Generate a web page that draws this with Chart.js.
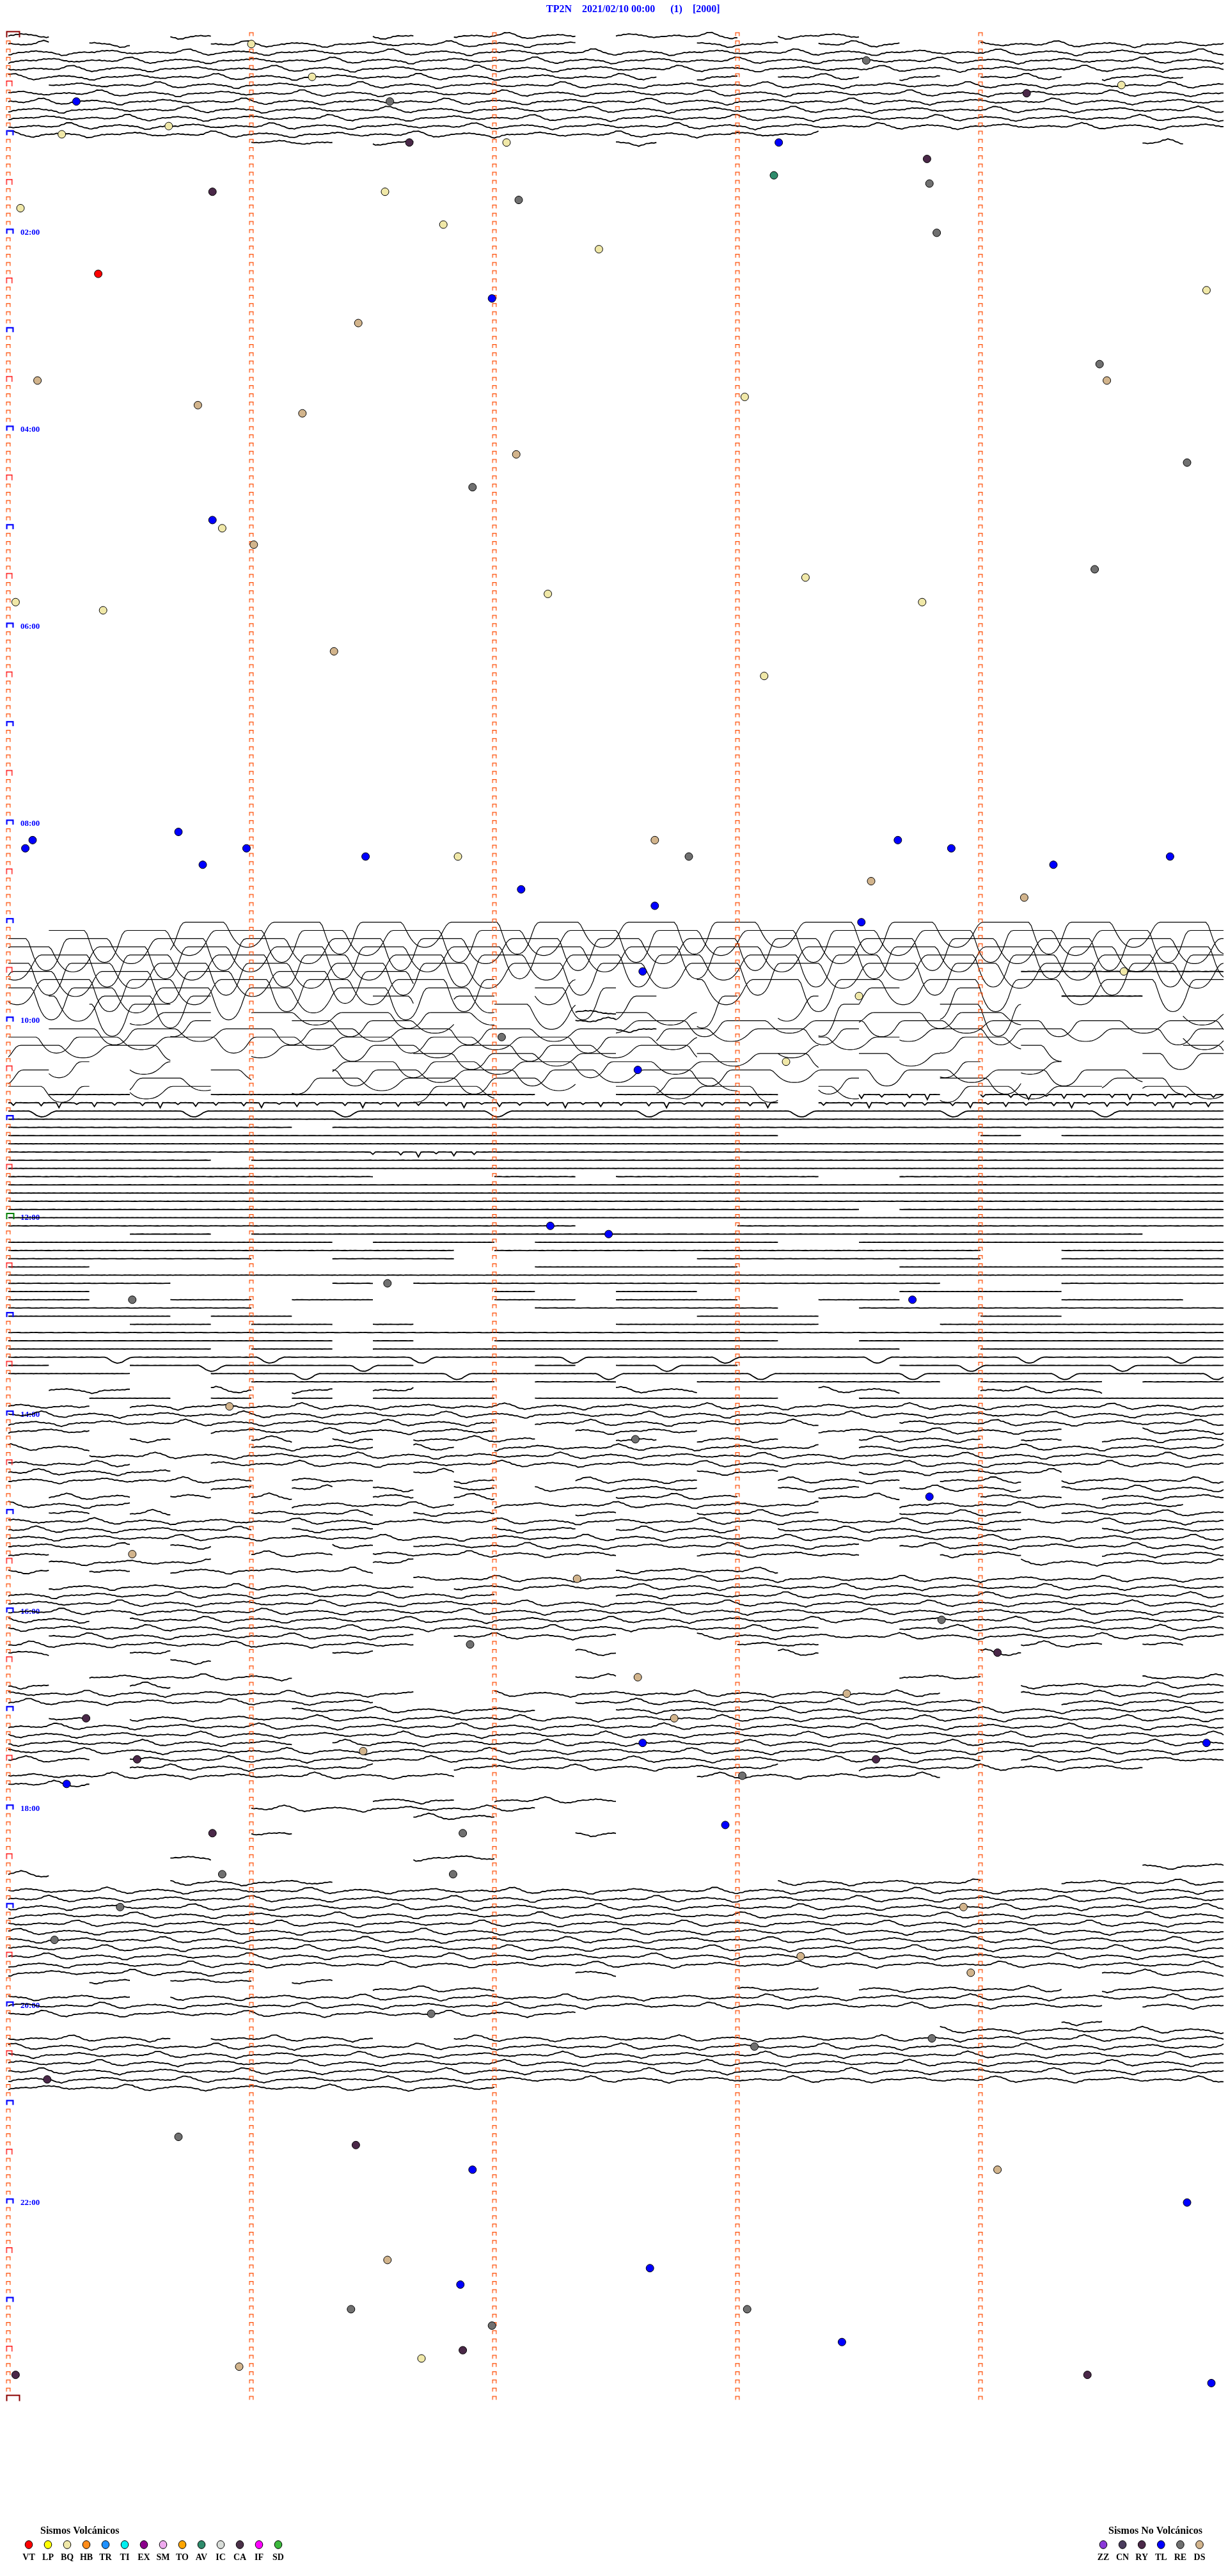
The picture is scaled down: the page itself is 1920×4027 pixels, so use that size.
<!DOCTYPE html>
<html>
<head>
<meta charset="utf-8">
<title>TP2N 2021/02/10</title>
<script src="https://cdn.jsdelivr.net/npm/chart.js@4.4.1/dist/chart.umd.min.js"></script>
<style>
  html, body { margin: 0; padding: 0; background: #fff; }
  #wrap { width: 1920px; height: 4027px; }
</style>
</head>
<body>
<div id="wrap"><canvas id="heli" width="1920" height="4027"></canvas></div>
<script>
// ─── Sheet data ───
const stationTitle = 'TP2N    2021/02/10 00:00      (1)    [2000]';
const hourRows = [24, 48, 72, 96, 120, 144, 168, 192, 216, 240, 264];
const hourLabels = ['02:00', '04:00', '06:00', '08:00', '10:00', '12:00', '14:00', '16:00', '18:00', '20:00', '22:00'];

const volcanicCodes = ['VT', 'LP', 'BQ', 'HB', 'TR', 'TI', 'EX', 'SM', 'TO', 'AV', 'IC', 'CA', 'IF', 'SD'];
const volcanicColors = ['#ff0000', '#ffff00', '#f0e8a8', '#ff8c1a', '#1e90ff', '#00f0f0', '#8b008b', '#eeaaee', '#ffa500', '#2e8b6b', '#d8dcd8', '#4a3048', '#ff00ff', '#3cb83c'];
const tectonicCodes = ['ZZ', 'CN', 'RY', 'TL', 'RE', 'DS'];
const tectonicColors = ['#8a38d8', '#4a3c5c', '#4a2848', '#0000ff', '#707070', '#d2b48c'];

// one line per 5 minutes, 30 slots of 10 s per line
// w wavy, f flat, n flat with spikes, u flat with dips, q clipped swings, v smaller clipped swings
const traceRows = [
  [0, 'w...w....w.www.', 'www.ww.........'],
  [1, 'w.w..wwwwwwwww.', '..ww.ww..wwwwww'],
  [2, 'wwwwwwwwwwwwwww', 'wwwwwwwwwwwwwww'],
  [3, 'wwwwwwwwwwwwwww', 'wwwwwwwwwwwwwww'],
  [4, 'wwwwwwwwwwwwwww', 'wwwwwwwwwwwwwww'],
  [5, 'wwwwwwwwwwwwwww', 'w.w.ww.w.ww.ww.'],
  [6, '.wwwwwwwwwwwwww', 'wwwwwwwwwwwwwww'],
  [7, 'wwwwwwwwwwwwwww', 'wwwwwwwwwwwwwww'],
  [8, 'wwwwwwwwwwwwwww', 'wwwwwwwwwwwwwww'],
  [9, 'wwwwwwwwwwwwwww', 'wwwwwwwwwwwwwww'],
  [10, 'wwwwwwwwwwwwwww', 'wwwwwwwwwwwwwww'],
  [11, 'wwwwwwwwwwwwwww', 'wwwwwwwwwwwwwww'],
  [12, 'wwwwwwwwwwwwwww', 'wwwww..........'],
  [13, '......ww.w.....', 'w............w.'],
  [108, '....qqqqqqqqqqq', 'qqqqqqqqqqqqqqq'],
  [109, '.qqqqqqqqqqqqqq', 'qqqqqqqqqqqqqqq'],
  [110, 'qqqqqqqqqqqqqqq', 'qqqqqqqqqqqqqqq'],
  [111, 'qqqqqqqqqqqqqqq', 'qqqqqqqqqqqqqqq'],
  [112, 'qqqqqqqqqqqqqqq', 'qqqqqqqqqqqqqqq'],
  [113, 'qqqqqqqqqqqqqqq', 'qqqqqqqqqqqqqqq'],
  [114, 'qqqqqqqqqq.....', '..........fffff'],
  [115, 'qqqqqqqqqqqq.q.', '..qqqqqqqqqqqqq'],
  [116, 'qqqqqqqqqqqq.qq', '......q.q......'],
  [117, '.qqqq....q.q...', 'q.q.q......ff..'],
  [118, '..qq........qq.', '.....q..qq.....'],
  [119, '...vv.vvvvvv..w', 'vv....vvvv....v'],
  [120, '....v..vvvv...w', 'vvvvvvvvvvvvvvv'],
  [121, '.vvvvvvvvvvvvvv', 'wvvvvv.vvvvvvvv'],
  [122, 'vvvvvvvvvvvvvvv', 'vv...vv.vv....v'],
  [123, 'vvvv..vvvvvvvvv', 'vv..v.....v...v'],
  [124, '..........vvvvv', '..vvv.vv.....vv'],
  [125, '.v.v....vvvvvvv', 'vvv.....v.v....'],
  [126, 'v....v..vvvvvvv', 'vvvvvvvvvvvvv..'],
  [127, '...vv..vvvvvvv.', '.vv..v..vv..vv.'],
  [128, 'vv.vv.....vv...', 'vvvv.v..vvvv.vv'],
  [129, '.ff..ffffffff..', 'ffff..nn.nnnnnn'],
  [130, 'nnnnnnnnnnnnnnn', 'nnnn.nnnnnnnnnn'],
  [131, 'uuuuuuuuuuuuuuu', 'uuuuuuuuuuuuuuu'],
  [132, 'fffffffffffffff', 'fffffffffffffff'],
  [133, 'fffffff.fffffff', 'fffffffffffffff'],
  [134, 'fffffffffffffff', 'ffff.....f.ffff'],
  [135, 'fffffffffffffff', 'fffffffffffffff'],
  [136, 'fffffffffnnnfff', 'fffffffffffffff'],
  [137, 'fffff.fffffffff', 'fffffffffffffff'],
  [138, 'fffffffffffffff', 'fffffffffffffff'],
  [139, 'fffffffff...ff.', 'fffff..ffffffff'],
  [140, 'fffffffffffffff', 'fffffffffffffff'],
  [141, 'fffffffffffffff', 'fffffffffffffff'],
  [142, 'fffffffffffffff', 'fffffffffffffff'],
  [143, 'fffffffffffffff', 'ffffff.ffffffff'],
  [144, 'fffffffffffffff', 'fffffffffffffff'],
  [145, 'ffffffffffffff.', '...ffffffffffff'],
  [146, '...ff.fffffffff', 'fffffffffffff..'],
  [147, 'ffffffff.fff.ff', 'ffff..fffffffff'],
  [148, 'fffffffffff.fff', 'fffffffff..ffff'],
  [149, 'ffffff..fff....', '..fffffff..ffff'],
  [150, 'ff...........ff', 'fff....ffffffff'],
  [151, 'fffffffffffffff', 'fffffffffffffff'],
  [152, 'ffff....f.fffff', 'ffffffff...ffff'],
  [153, 'ff..........f..', 'ff.....ffff....'],
  [154, 'ff..ff.ff...ff.', 'fff..ff....fff.'],
  [155, 'ffffff.......ff', 'ffff..fffffffff'],
  [156, 'ffff.ff........', '..fff....ff....'],
  [157, '...ff.ff.f.....', 'fffff...fffffff'],
  [158, 'fffffffffffffff', 'fffffffffffffff'],
  [159, 'ffffffff.f..fff', 'ffff..fffffffff'],
  [160, 'fffff.ff.ffffff', 'fffffff..ffffff'],
  [161, 'uuuuuuuuuuuuuuu', 'uuuuuuuuuuuuuuu'],
  [162, 'f..uuuuuuu...f.', 'uuu....uuuuuuuu'],
  [163, 'fff..uuuuuuuuuu', 'uuuuuuuuuuuuuuu'],
  [164, '......ffffff.ff', '..ffffff.fff.ff'],
  [165, '.ww..w.w.w.....', 'ww...ww..www...'],
  [166, '..ff.f.f.fff.ff', 'ffff..fffffffff'],
  [167, 'ww.wwwwwwwwwwww', 'wwwwwwwwwwwwwww'],
  [168, 'wwwwwwwwwwwwwww', 'wwwwwwwwwwwwwww'],
  [169, 'wwwwwwwwwwww.ww', 'wwwww..wwwwwwww'],
  [170, 'ww...wwwwwww..w', 'ww...wwwwww..ww'],
  [171, '...w..w.w.www..', 'w.ww..www.w.www'],
  [172, 'ww....www.w.www', 'wwwww.wwwwwwwww'],
  [173, '..wwwwwwwwwwwww', 'wwwwwwwwwwwwwww'],
  [174, 'www..wwwwwwwwww', 'wwwwwwwwwwwwwww'],
  [175, 'wwww......w....', '..ww..wwwww....'],
  [176, 'wwwwww.ww..w..w', 'ww..www.ww.wwww'],
  [177, '.....w.w.w.w.ww', 'ww..ww.www.wwww'],
  [178, '.ww.w.w..w.w...', 'www..ww..ww.www'],
  [179, 'www....wwww.www', 'wwwww..wwwwwww.'],
  [180, '.w.w..www.ww..w', '..www..www.wwww'],
  [181, 'wwwwwwwwwwwwwww', 'wwwwwwwwwwwwwww'],
  [182, 'wwwwww.ww...ww.', 'www.wwwwww..www'],
  [183, 'wwwwwwwwwwwwwww', 'wwwwwwwwwwwwwww'],
  [184, 'www.w...w.wwwww', 'wwwwww.wwwwwwww'],
  [185, 'w.....ww.wwwwww', '..wwww..ww..www'],
  [186, '.wwww....w.....', '..........wwwww'],
  [187, 'w.w.wwwww......', 'wwww...........'],
  [188, '..........wwwww', 'wwwwwwwwwwwwwww'],
  [189, '.wwwwwwwww.wwww', 'wwwwwwwwwwwwwww'],
  [190, 'wwwwwwwwwwww...', 'wwwwwwwwwwwwwww'],
  [191, 'wwwwwwwwwwwwwww', 'wwwwwwwwwwwwwww'],
  [192, 'wwwwwwwwwwwwwww', 'wwwwwwwwwwwwwww'],
  [193, 'ww.wwwwwwwwwwww', 'wwwwwwwwwwwwwww'],
  [194, 'wwwwwwwwwwwwwww', 'wwwww..wwwwwwww'],
  [195, '.wwwwwwwww.wwww', '..wwwwwwwwwwwww'],
  [196, 'wwwwwwwwww.....', '...ww.....ww.w.'],
  [197, 'w..w....w.....w', '....w....w.....'],
  [198, '....w..........', '...............'],
  [200, '..wwwww.......w', '.......ww....ww'],
  [201, 'w..w...........', '..........wwwww'],
  [202, 'wwwwwwwwww..www', 'wwwwwwww..wwwww'],
  [203, 'wwwwwwwww.....w', 'wwwwwwwww..wwww'],
  [204, '.......wwwwww..', 'wwwwwwwwwwwwwww'],
  [205, '.w.wwwwwwwwwwww', 'wwwwwwwwwwwwwww'],
  [206, 'wwwwwwwwwwwwwww', 'wwwwwwwwwwwwwww'],
  [207, 'wwwwwwwwwwwwwww', 'wwwwwwwwwwwwwww'],
  [208, 'wwwwwww.wwwwwww', 'wwwwwwwwwwwwwww'],
  [209, 'wwwwwwwwwwwwwww', 'wwwwwwwwwwwwwww'],
  [210, 'ww.wwwwwwwwwwww', 'wwwwwwwww.wwwww'],
  [211, '...wwwwww..wwww', 'wwww..wwwwwww..'],
  [212, 'wwwwwwwwwww....', '..wwwwww.......'],
  [213, 'ww.............', '...............'],
  [215, '.........ww.www', '...............'],
  [216, '......wwwwwww..', '...............'],
  [217, '..........ww...', '...............'],
  [219, '......w.......w', '...............'],
  [222, '....w.....ww...', '...............'],
  [223, '...............', '.............ww'],
  [224, 'w..............', '...............'],
  [225, '....wwww.......', '....wwwww..wwww'],
  [226, 'wwwwwwwwwwwwwww', 'wwwwwwwwwwwwwww'],
  [227, 'wwwwwwwwwwwwwww', 'wwwwwwwwwwwwwww'],
  [228, 'wwwwwwwwwwwwwww', 'wwwwwwwwwwwwwww'],
  [229, 'wwwwwwwwwwwwwww', 'wwwwwwwwwwwwwww'],
  [230, 'wwwwwwwwwwwwwww', 'wwwwwwwwwwwwwww'],
  [231, 'wwwwwwwwwwwwwww', 'wwwwwwwwwwwwwww'],
  [232, 'wwwwwwwwwwwwwww', 'wwwwwwwwwwwwwww'],
  [233, 'wwwwwwwwwwwwwww', 'wwwwwwwwwwwwwww'],
  [234, 'wwwwwwwwwwwwwww', 'wwwwwwwwwwwwwww'],
  [235, 'wwwwwwwwwwwwwww', 'wwwwwwwwwwwwwww'],
  [236, 'wwwwww........w', '............www'],
  [237, '..w.ww.w.......', '...............'],
  [238, '.........www...', '...ww.wwwww.www'],
  [239, 'www.wwwwwwwwwww', 'wwwwwwwwwwwwwww'],
  [240, 'wwwwwwwwwwwwwww', 'wwwwwwwwwwww.ww'],
  [241, 'wwwwwwwwwwwwww.', '...............'],
  [242, '...............', '...........w...'],
  [243, '...............', '........wwwwwww'],
  [244, 'wwww.wwww..wwww', 'wwwwwwwwwwwwwww'],
  [245, 'wwwwwwwwwwwwwww', 'wwwwwwwwwwwwwww'],
  [246, 'wwwwwwwwwwwwwww', 'wwwwwwwwwwwwwww'],
  [247, 'wwwwwwwwwwwwwww', 'wwwwwwwwwwwwwww'],
  [248, 'wwwwwwwwwwwwwww', 'wwwwwwwwwwwwwww'],
  [249, 'wwwwwwwwwwwwwww', 'wwwwwwwwwwwwwww'],
  [250, 'wwwwwwwwwwww...', '...............']
];

// trace shapes, in line-spacing units (down is positive)
const wavePattern = [0, -0.04, -0.08, -0.12, -0.15, -0.17, -0.18, -0.17, -0.14, -0.10, -0.05, 0,
  0.05, 0.09, 0.12, 0.14, 0.14, 0.12, 0.09, 0.05, 0.02, 0, -0.02, -0.03, -0.03, -0.02, 0, 0.03,
  0.06, 0.08, 0.08, 0.06, 0.02, -0.04, -0.12, -0.22, -0.30, -0.34, -0.30, -0.22, -0.12, -0.02,
  0.08, 0.16, 0.22, 0.26, 0.26, 0.22, 0.16, 0.10, 0.05, 0.02, 0, -0.02, -0.05, -0.08, -0.10,
  -0.11, -0.10, -0.08, -0.05, -0.02, 0.01, 0.04, 0.08, 0.14, 0.22, 0.30, 0.34, 0.30, 0.22, 0.14,
  0.08, 0.04, 0.02, 0.01, 0, 0, 0, 0];
const hairPattern = [0.04, -0.03, 0.05, -0.04, 0.01, -0.05, 0.03, -0.01, 0.05, -0.03, 0.01, -0.04, 0.02];
const swingPattern = [0, 0, 0, 0, 0, 0, 0, 0, 0, 0, 0, 0, 0, 0, 0, 0, 0, 0,
  0.4, 1.3, 2.2, 2.9, 3.4, 3.7, 3.85, 3.9, 3.85, 3.7, 3.4, 2.9, 2.2, 1.3, 0.5, 0.1,
  0, 0, 0, 0, 0, 0, 0, 0, 0, 0, 0, 0, 0, 0, 0, 0,
  0.3, 0.9, 1.5, 2.0, 2.4, 2.7, 2.9, 3.0, 3.05, 3.05, 3.0, 2.9, 2.7, 2.4, 2.0, 1.5, 0.9, 0.4, 0.1, 0];
const dipPattern = [0, 0, 0, 0, 0, 0, 0, 0, 0, 0, 0, 0, 0, 0, 0, 0, 0, 0, 0, 0, 0, 0,
  0.1, 0.3, 0.5, 0.65, 0.72, 0.7, 0.6, 0.42, 0.22, 0.08,
  0, 0, 0, 0, 0, 0, 0, 0, 0, 0, 0, 0, 0, 0, 0, 0, 0, 0, 0, 0, 0, 0, 0, 0, 0, 0, 0, 0];
const spikePattern = [0, 0, 0, 0.35, 0, 0, 0, 0, 0, 0, 0.6, 0, 0, 0, 0, 0, 0, 0.2, 0, 0,
  0, 0, 0, 0, 0.45, 0, 0, 0, 0, 0, 0, 0, 0.3, 0, 0, 0, 0, 0, 0, 0];

// events: [code, minute within line, line]
const events = [
  ['BQ', 1.00, 1], ['BQ', 1.25, 5], ['BQ', 4.58, 6], ['BQ', 0.66, 11], ['BQ', 0.22, 12], ['BQ', 2.05, 13],
  ['BQ', 1.55, 19], ['BQ', 0.05, 21], ['BQ', 1.79, 23], ['BQ', 2.43, 26], ['BQ', 4.93, 31], ['BQ', 3.03, 44],
  ['BQ', 0.88, 60], ['BQ', 3.28, 66], ['BQ', 2.22, 68], ['BQ', 3.76, 69], ['BQ', 0.03, 69], ['BQ', 0.39, 70],
  ['BQ', 3.11, 78], ['BQ', 1.85, 100], ['BQ', 4.59, 114], ['BQ', 3.50, 117], ['BQ', 3.20, 125], ['BQ', 1.70, 283],
  ['RE', 1.57, 8], ['RE', 3.53, 3], ['RE', 3.79, 18], ['RE', 2.10, 20], ['RE', 3.82, 24], ['RE', 4.49, 40],
  ['RE', 4.85, 52], ['RE', 1.91, 55], ['RE', 4.47, 65], ['RE', 2.80, 100], ['RE', 2.03, 122], ['RE', 1.56, 152],
  ['RE', 0.51, 154], ['RE', 2.58, 171], ['RE', 3.84, 193], ['RE', 1.90, 196], ['RE', 3.02, 212], ['RE', 1.87, 219],
  ['RE', 1.83, 224], ['RE', 0.88, 224], ['RE', 0.46, 228], ['RE', 0.19, 232], ['RE', 1.74, 241], ['RE', 3.80, 244],
  ['RE', 3.07, 245], ['RE', 0.70, 256], ['RE', 1.41, 277], ['RE', 3.04, 277], ['RE', 1.99, 279],
  ['TL', 0.28, 8], ['TL', 3.17, 13], ['TL', 1.99, 32], ['TL', 0.84, 59], ['TL', 0.10, 98], ['TL', 0.07, 99],
  ['TL', 0.70, 97], ['TL', 0.98, 99], ['TL', 0.80, 101], ['TL', 1.47, 100], ['TL', 3.66, 98], ['TL', 3.88, 99],
  ['TL', 4.30, 101], ['TL', 4.78, 100], ['TL', 2.11, 104], ['TL', 2.66, 106], ['TL', 3.51, 108], ['TL', 2.61, 114],
  ['TL', 2.59, 126], ['TL', 2.23, 145], ['TL', 2.47, 146], ['TL', 3.72, 154], ['TL', 3.79, 178], ['TL', 2.61, 208],
  ['TL', 4.93, 208], ['TL', 0.24, 213], ['TL', 2.95, 218], ['TL', 1.91, 260], ['TL', 4.85, 264], ['TL', 2.64, 272],
  ['TL', 1.86, 274], ['TL', 3.43, 281], ['TL', 4.95, 286],
  ['DS', 1.44, 35], ['DS', 0.12, 42], ['DS', 4.52, 42], ['DS', 0.78, 45], ['DS', 1.21, 46], ['DS', 2.09, 51],
  ['DS', 1.01, 62], ['DS', 1.34, 75], ['DS', 2.66, 98], ['DS', 3.55, 103], ['DS', 4.18, 105], ['DS', 0.91, 167],
  ['DS', 0.51, 185], ['DS', 2.34, 188], ['DS', 2.59, 200], ['DS', 3.45, 202], ['DS', 2.74, 205], ['DS', 1.46, 209],
  ['DS', 3.93, 228], ['DS', 3.26, 234], ['DS', 3.96, 236], ['DS', 4.07, 260], ['DS', 1.56, 271], ['DS', 0.95, 284],
  ['RY', 4.19, 7], ['RY', 1.65, 13], ['RY', 3.78, 15], ['RY', 0.84, 19], ['RY', 4.07, 197], ['RY', 0.32, 205],
  ['RY', 0.53, 210], ['RY', 3.57, 210], ['RY', 0.84, 219], ['RY', 0.16, 249], ['RY', 1.43, 257], ['RY', 1.87, 282],
  ['RY', 4.44, 285], ['RY', 0.03, 285],
  ['VT', 0.37, 29],
  ['AV', 3.15, 17]
];

// ─── Sheet geometry ───
const LINES = 288;
const SLOTS = 30;
const STEPS = 16;
const SLOT_MIN = 5 / SLOTS;

function traceOffset(ch, i) {
  const hair = hairPattern[i % hairPattern.length];
  switch (ch) {
    case 'w': return wavePattern[i % wavePattern.length] * 1.2 + hair;
    case 'n': return spikePattern[i % spikePattern.length] + hair * 0.3;
    case 'u': return dipPattern[i % dipPattern.length] + hair * 0.3;
    case 'q': return swingPattern[i % swingPattern.length];
    case 'v': return swingPattern[i % swingPattern.length] * 0.5;
    default: return hair * 0.3;
  }
}

function buildTraces(styles) {
  const pts = [];
  for (const [row, a, b] of traceRows) {
    const code = (a + b).padEnd(SLOTS, '.');
    const phase = row * 23;
    for (let s = 0; s < SLOTS; s++) {
      const ch = code[s];
      if (!styles.includes(ch)) continue;
      for (let k = 0; k < STEPS; k++) {
        const i = s * STEPS + k + phase;
        pts.push({ x: (s + k / STEPS) * SLOT_MIN, y: row + traceOffset(ch, i) });
      }
      if (!styles.includes(code[s + 1] || '.')) {
        pts.push({ x: (s + 1) * SLOT_MIN, y: row + traceOffset(ch, (s + 1) * STEPS + phase) });
        pts.push({ x: (s + 1) * SLOT_MIN, y: null });
      }
    }
  }
  return pts;
}

function bracketIcon(w, h, color, lw, anchor) {
  const cw = Math.ceil(2 * Math.max(anchor, w - anchor)) + 2;
  const c = document.createElement('canvas');
  c.width = cw;
  c.height = h + 2;
  const g = c.getContext('2d');
  const x0 = cw / 2 - anchor;
  g.strokeStyle = color;
  g.lineWidth = lw;
  g.beginPath();
  g.moveTo(x0 + lw / 2, h + 1);
  g.lineTo(x0 + lw / 2, 1 + lw / 2);
  g.lineTo(x0 + w - lw / 2, 1 + lw / 2);
  g.lineTo(x0 + w - lw / 2, h + 1);
  g.stroke();
  return c;
}

const tickIcon = bracketIcon(7, 6, '#ff4a00', 1.2, 3.5);
const halfHourIcon = bracketIcon(10, 9, '#ff1010', 1.4, 3.5);
const hourIcon = bracketIcon(12, 8, '#0000ff', 2.2, 3.5);
const noonIcon = bracketIcon(13, 10, '#008000', 2, 3.5);
const dayIcon = bracketIcon(22, 10, '#8b0000', 2, 3.5);

function markerData() {
  const pts = [];
  const styles = [];
  for (let r = 0; r <= LINES; r++) {
    let icon = tickIcon;
    if (r === 0 || r === LINES) icon = dayIcon;
    else if (r === 144) icon = noonIcon;
    else if (r % 12 === 0) icon = hourIcon;
    else if (r % 6 === 0) icon = halfHourIcon;
    pts.push({ x: 0, y: r - 0.2 });
    styles.push(icon);
    for (let m = 1; m <= 4; m++) {
      pts.push({ x: m, y: r - 0.2 });
      styles.push(tickIcon);
    }
  }
  return { pts, styles };
}

const colorOf = {};
volcanicCodes.forEach((c, i) => { colorOf[c] = volcanicColors[i]; });
tectonicCodes.forEach((c, i) => { colorOf[c] = tectonicColors[i]; });

const eventDatasets = [...new Set(events.map(e => e[0]))].map(code => ({
  type: 'scatter',
  label: code,
  data: events.filter(e => e[0] === code).map(e => ({ x: e[1], y: e[2] })),
  pointRadius: 6,
  pointBackgroundColor: colorOf[code],
  pointBorderColor: '#000',
  pointBorderWidth: 1,
  clip: false,
  order: 0
}));

const markers = markerData();

// ─── Title and legends ───
function drawLegendGroup(ctx, title, codes, colors, titleX, firstX, step) {
  ctx.fillStyle = '#000';
  ctx.font = "bold 16px 'Liberation Serif', serif";
  ctx.textAlign = 'left';
  ctx.fillText(title, titleX, 3957);
  ctx.font = "bold 14px 'Liberation Serif', serif";
  ctx.textAlign = 'center';
  codes.forEach((code, i) => {
    const x = firstX + i * step;
    ctx.beginPath();
    ctx.ellipse(x, 3978, 5.8, 6.3, 0, 0, Math.PI * 2);
    ctx.fillStyle = colors[i];
    ctx.fill();
    ctx.lineWidth = 1;
    ctx.strokeStyle = '#000';
    ctx.stroke();
    ctx.fillStyle = '#000';
    ctx.fillText(code, x, 3998);
  });
}

const sheetText = {
  id: 'sheetText',
  afterDraw(chart) {
    const ctx = chart.ctx;
    ctx.save();
    ctx.textBaseline = 'middle';
    ctx.fillStyle = '#0000ff';
    ctx.font = "bold 16px 'Liberation Serif', serif";
    ctx.fillText(stationTitle, 854, 15);
    drawLegendGroup(ctx, 'Sismos Volcánicos', volcanicCodes, volcanicColors, 63, 45, 30);
    drawLegendGroup(ctx, 'Sismos No Volcánicos', tectonicCodes, tectonicColors, 1733, 1725, 30.1);
    ctx.restore();
  }
};

// ─── Chart ───
new Chart(document.getElementById('heli'), {
  type: 'line',
  data: {
    datasets: [
      ...eventDatasets,
      {
        type: 'scatter',
        label: 'marks',
        data: markers.pts,
        pointStyle: markers.styles,
        pointRadius: 3,
        clip: false,
        order: 1
      },
      {
        label: 'traces',
        data: buildTraces('wfnu'),
        borderColor: '#000',
        borderWidth: 1.8,
        pointRadius: 0,
        spanGaps: false,
        tension: 0,
        clip: false,
        order: 2
      },
      {
        label: 'swings',
        data: buildTraces('qv'),
        borderColor: '#000',
        borderWidth: 1.2,
        pointRadius: 0,
        spanGaps: false,
        tension: 0,
        clip: false,
        order: 2
      }
    ]
  },
  options: {
    responsive: false,
    devicePixelRatio: 1,
    animation: false,
    events: [],
    layout: { padding: { top: 17.5, bottom: 263.1, left: 13, right: 7 } },
    scales: {
      x: { type: 'linear', min: 0, max: 5, display: false },
      y: {
        type: 'linear',
        min: -3,
        max: 289,
        reverse: true,
        grid: { display: false, drawTicks: false },
        border: { display: false },
        afterBuildTicks: s => { s.ticks = hourRows.map(v => ({ value: v })); },
        afterFit: s => { s.width = 0; s.paddingTop = 0; s.paddingBottom = 0; },
        ticks: {
          mirror: true,
          padding: 19,
          autoSkip: false,
          color: '#0000ff',
          font: { family: "'Liberation Serif', serif", size: 13, weight: 'bold' },
          callback: v => hourLabels[hourRows.indexOf(v)] ?? ''
        }
      }
    },
    plugins: {
      legend: { display: false },
      title: { display: false },
      tooltip: { enabled: false }
    }
  },
  plugins: [sheetText]
});
</script>
</body>
</html>
